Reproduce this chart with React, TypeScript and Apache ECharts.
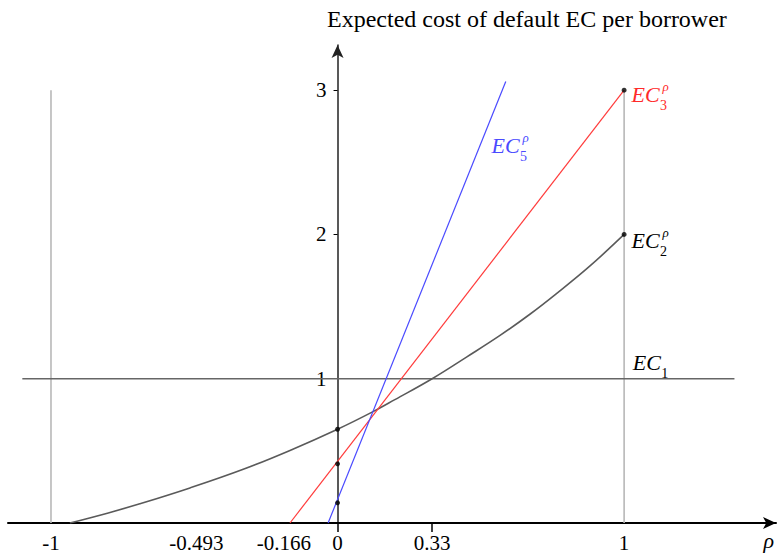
import React, { useEffect, useRef } from "react";
import * as echarts from "echarts";

// ---- data ----
const xTickValues = [-1, -0.493, -0.166, 0, 0.33, 1];
const xTickLabels = ["-1", "-0.493", "-0.166", "0", "0.33", "1"];
const xTickMarks = [0, 0.33];
const yTickValues = [1, 2, 3];
const yTickLabels = ["1", "2", "3"];

const ec1X = [-1.1, 1.385];
const ec1Y = [1, 1];
const ec2X = [-0.934, -0.8, -0.69, -0.515, -0.329, -0.166, 0, 0.124, 0.2, 0.33, 0.45, 0.567, 0.67, 0.764, 0.88, 1];
const ec2Y = [0, 0.07, 0.133, 0.243, 0.372, 0.503, 0.65, 0.772, 0.855, 1.0, 1.15, 1.3, 1.445, 1.59, 1.78, 2];
const ec3X = [-0.166, 1];
const ec3Y = [0, 3];
const ec5X = [-0.033, 0.587];
const ec5Y = [0, 3.06];
const guideX = [-1, 1];
const guideBottom = 0;
const guideTop = 3;
const dotX = [0, 0, 0, 1, 1];
const dotY = [0.65, 0.41, 0.14, 2, 3];

const labelSubs = ["5", "3", "2", "1"];
const labelSups = ["ρ", "ρ", "ρ", ""];
const labelX = [0.537, 1.026, 1.026, 1.03];
const labelY = [2.613, 2.973, 1.961, 1.109];
const labelColors = ["#4a4aff", "#ff2a2a", "#000000", "#000000"];

const titleText = "Expected cost of default EC per borrower";
const xName = "ρ";
const xNamePos = [1.505, -0.118];

const FONT = '"Liberation Serif", "Times New Roman", serif';

const zip = (xs: number[], ys: number[]) => xs.map((x, i) => [x, ys[i]]);

export default function App() {
  const ref = useRef<HTMLDivElement>(null);
  useEffect(() => {
    const chart = echarts.init(ref.current!, null, { renderer: "svg" });
    const lineBase = {
      type: "line",
      showSymbol: false,
      silent: true,
      animation: false,
    };
    const X_MIN = -1.15;
    const X_MAX = 1.53;
    const GRID_LEFT = 8;
    const GRID_RIGHT = 2;
    const option: any = {
      animation: false,
      title: {
        text: titleText,
        left: 322,
        top: 2,
        textStyle: { fontFamily: FONT, fontSize: 24, fontWeight: "normal", color: "#000" },
      },
      grid: {
        left: GRID_LEFT,
        right: GRID_RIGHT,
        top: 45,
        bottom: 32,
        containLabel: false,
        outerBoundsMode: "none",
      },
      xAxis: {
        type: "value",
        min: X_MIN,
        max: X_MAX,
        splitLine: { show: false },
        axisLine: {
          onZero: false,
          symbol: ["none", "arrow"],
          symbolSize: [9, 13],
          lineStyle: { color: "#000", width: 2 },
        },
        axisTick: {
          show: true,
          customValues: xTickMarks,
          length: 9,
          lineStyle: { color: "#000", width: 1.5 },
        },
        axisLabel: {
          customValues: xTickValues,
          hideOverlap: false,
          formatter: (v: number) => {
            const i = xTickValues.findIndex((t) => Math.abs(t - v) < 1e-6);
            if (i < 0) return "";
            // the -0.166 label sits a little to the left, clear of "0"
            return Math.abs(v + 0.166) < 1e-6 ? "{l|" + xTickLabels[i] + "}" : xTickLabels[i];
          },
          rich: {
            l: { fontFamily: FONT, fontSize: 21, color: "#000", padding: [0, 12, 0, 0] },
          },
          fontFamily: FONT,
          fontSize: 21,
          color: "#000",
          margin: 9,
        },
      },
      yAxis: {
        type: "value",
        min: 0,
        max: 3.313,
        // shift the axis so that it stands at rho = 0
        offset: -((0 - X_MIN) / (X_MAX - X_MIN)) * (778 - GRID_LEFT - GRID_RIGHT),
        splitLine: { show: false },
        axisLine: {
          onZero: false,
          symbol: ["none", "arrow"],
          symbolSize: [9, 13],
          lineStyle: { color: "#222", width: 1.5 },
        },
        axisTick: {
          show: true,
          customValues: yTickValues,
          length: 4,
          lineStyle: { color: "#000", width: 1 },
        },
        axisLabel: {
          customValues: yTickValues,
          formatter: (v: number) => {
            const i = yTickValues.findIndex((t) => Math.abs(t - v) < 1e-6);
            return i >= 0 ? yTickLabels[i] : "";
          },
          fontFamily: FONT,
          fontSize: 21,
          color: "#000",
          margin: 11,
        },
      },
      series: [
        ...guideX.map((gx) => ({
          ...lineBase,
          data: [
            [gx, guideBottom],
            [gx, guideTop],
          ],
          lineStyle: { color: "#b8b8b8", width: 1.6 },
          z: 1,
        })),
        { ...lineBase, data: zip(ec1X, ec1Y), lineStyle: { color: "#666", width: 1.6 }, z: 2 },
        {
          ...lineBase,
          data: zip(ec2X, ec2Y),
          smooth: 0.4,
          lineStyle: { color: "#5a5a5a", width: 1.6 },
          z: 3,
        },
        { ...lineBase, data: zip(ec3X, ec3Y), lineStyle: { color: "#ff3b3b", width: 1.2 }, z: 4 },
        { ...lineBase, data: zip(ec5X, ec5Y), lineStyle: { color: "#4a4aff", width: 1.2 }, z: 5 },
        {
          type: "scatter",
          silent: true,
          data: zip(dotX, dotY),
          symbol: "circle",
          symbolSize: 5,
          itemStyle: { color: "#000" },
          z: 10,
        },
      ],
    };
    chart.setOption(option);

    const toPx = (x: number, y: number) => chart.convertToPixel({ gridIndex: 0 }, [x, y]) as number[];
    const graphic: any[] = [];
    labelX.forEach((lx, i) => {
      const [px, py] = toPx(lx, labelY[i]);
      const color = labelColors[i];
      graphic.push({
        type: "text",
        x: px,
        y: py,
        silent: true,
        style: {
          text: "EC",
          fill: color,
          fontFamily: FONT,
          fontSize: 22,
          fontStyle: "italic",
          align: "left",
          verticalAlign: "middle",
        },
      });
      graphic.push({
        type: "text",
        x: px + 28.5,
        y: py + 11,
        silent: true,
        style: {
          text: labelSubs[i],
          fill: color,
          fontFamily: FONT,
          fontSize: 14,
          align: "left",
          verticalAlign: "middle",
        },
      });
      if (labelSups[i]) {
        graphic.push({
          type: "text",
          x: px + 31,
          y: py - 8,
          silent: true,
          style: {
            text: labelSups[i],
            fill: color,
            fontFamily: FONT,
            fontSize: 13,
            fontStyle: "italic",
            align: "left",
            verticalAlign: "middle",
          },
        });
      }
    });
    const [nx, ny] = toPx(xNamePos[0], xNamePos[1]);
    graphic.push({
      type: "text",
      x: nx,
      y: ny,
      silent: true,
      style: {
        text: xName,
        fill: "#000",
        fontFamily: FONT,
        fontSize: 22,
        fontStyle: "italic",
        align: "center",
        verticalAlign: "middle",
      },
    });
    chart.setOption({ graphic });

    return () => chart.dispose();
  }, []);
  return (
    <div
      ref={ref}
      style={{ position: "absolute", left: 0, top: 0, width: 778, height: 555, background: "#fff" }}
    />
  );
}
